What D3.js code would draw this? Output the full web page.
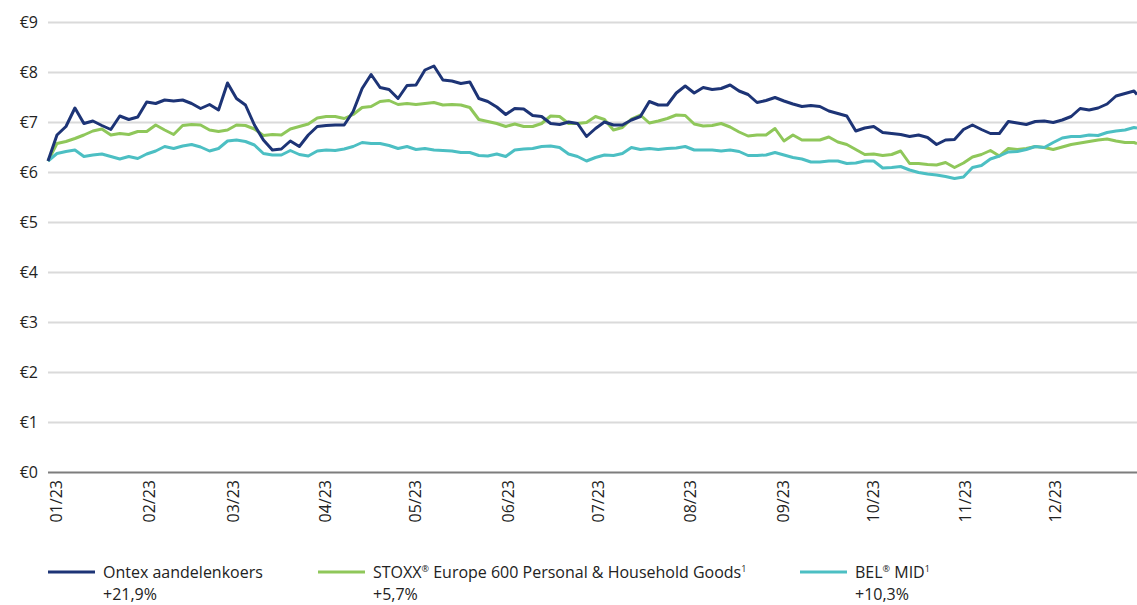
<!DOCTYPE html>
<html>
<head>
<meta charset="utf-8">
<script src="https://cdn.jsdelivr.net/npm/d3@7"></script>
<style>
  html, body { margin: 0; padding: 0; background: #fff; }
  svg { display: block; font-family: "Open Sans", "Noto Sans", sans-serif; }
</style>
</head>
<body>
<svg id="chart" width="1137" height="605"></svg>
<script>
// sample dates (every 3 days through 2023)
const dates = [
  "2023-01-01","2023-01-04","2023-01-07","2023-01-10","2023-01-13","2023-01-16","2023-01-19","2023-01-22","2023-01-25","2023-01-28",
  "2023-01-31","2023-02-03","2023-02-06","2023-02-09","2023-02-12","2023-02-15","2023-02-18","2023-02-21","2023-02-24","2023-02-27",
  "2023-03-02","2023-03-05","2023-03-08","2023-03-11","2023-03-14","2023-03-17","2023-03-20","2023-03-23","2023-03-26","2023-03-29",
  "2023-04-01","2023-04-04","2023-04-07","2023-04-10","2023-04-13","2023-04-16","2023-04-19","2023-04-22","2023-04-25","2023-04-28",
  "2023-05-01","2023-05-04","2023-05-07","2023-05-10","2023-05-13","2023-05-16","2023-05-19","2023-05-22","2023-05-25","2023-05-28",
  "2023-05-31","2023-06-03","2023-06-06","2023-06-09","2023-06-12","2023-06-15","2023-06-18","2023-06-21","2023-06-24","2023-06-27",
  "2023-06-30","2023-07-03","2023-07-06","2023-07-09","2023-07-12","2023-07-15","2023-07-18","2023-07-21","2023-07-24","2023-07-27",
  "2023-07-30","2023-08-02","2023-08-05","2023-08-08","2023-08-11","2023-08-14","2023-08-17","2023-08-20","2023-08-23","2023-08-26",
  "2023-08-29","2023-09-01","2023-09-04","2023-09-07","2023-09-10","2023-09-13","2023-09-16","2023-09-19","2023-09-22","2023-09-25",
  "2023-09-28","2023-10-01","2023-10-04","2023-10-07","2023-10-10","2023-10-13","2023-10-16","2023-10-19","2023-10-22","2023-10-25",
  "2023-10-28","2023-10-31","2023-11-03","2023-11-06","2023-11-09","2023-11-12","2023-11-15","2023-11-18","2023-11-21","2023-11-24",
  "2023-11-27","2023-11-30","2023-12-03","2023-12-06","2023-12-09","2023-12-12","2023-12-15","2023-12-18","2023-12-21","2023-12-24",
  "2023-12-27","2023-12-30","2023-12-31"
];

// Ontex share price (EUR)
const ontex = [
  6.22,6.74,6.91,7.28,6.97,7.02,6.93,6.85,7.12,7.05,
  7.10,7.40,7.37,7.44,7.42,7.44,7.37,7.27,7.35,7.24,
  7.78,7.47,7.34,6.94,6.64,6.44,6.46,6.62,6.51,6.74,
  6.91,6.93,6.94,6.94,7.21,7.67,7.95,7.69,7.65,7.47,
  7.73,7.74,8.04,8.12,7.84,7.82,7.77,7.80,7.47,7.41,
  7.30,7.15,7.27,7.26,7.13,7.11,6.97,6.95,7.00,6.97,
  6.71,6.87,7.00,6.94,6.94,7.04,7.11,7.41,7.34,7.34,
  7.58,7.72,7.58,7.69,7.65,7.67,7.74,7.62,7.55,7.39,
  7.43,7.49,7.42,7.36,7.31,7.33,7.31,7.22,7.17,7.12,
  6.82,6.88,6.91,6.79,6.77,6.75,6.71,6.74,6.69,6.55,
  6.64,6.65,6.85,6.94,6.85,6.77,6.77,7.01,6.98,6.95,
  7.01,7.02,6.99,7.04,7.11,7.27,7.24,7.28,7.36,7.52,
  7.57,7.62,7.55
];

// STOXX Europe 600 Personal & Household Goods (rebased)
const stoxx = [
  6.22,6.57,6.61,6.67,6.74,6.82,6.86,6.74,6.77,6.75,
  6.81,6.81,6.94,6.84,6.75,6.93,6.95,6.94,6.84,6.81,
  6.84,6.94,6.93,6.86,6.73,6.75,6.74,6.86,6.91,6.96,
  7.08,7.11,7.11,7.07,7.15,7.29,7.31,7.41,7.43,7.35,
  7.37,7.35,7.37,7.39,7.34,7.35,7.34,7.29,7.05,7.01,
  6.97,6.91,6.96,6.91,6.91,6.97,7.12,7.11,6.97,6.97,
  6.99,7.11,7.05,6.84,6.89,7.06,7.14,6.98,7.02,7.07,
  7.14,7.13,6.96,6.92,6.93,6.97,6.90,6.80,6.72,6.74,
  6.74,6.87,6.62,6.74,6.64,6.64,6.64,6.70,6.60,6.55,
  6.45,6.35,6.36,6.33,6.35,6.42,6.17,6.17,6.15,6.14,
  6.19,6.09,6.18,6.30,6.35,6.43,6.32,6.47,6.45,6.47,
  6.51,6.49,6.45,6.50,6.55,6.58,6.61,6.64,6.66,6.62,
  6.59,6.59,6.57
];

// BEL MID (rebased)
const belMid = [
  6.22,6.37,6.41,6.44,6.31,6.34,6.36,6.31,6.26,6.31,
  6.27,6.36,6.42,6.51,6.47,6.52,6.55,6.50,6.42,6.47,
  6.62,6.64,6.61,6.54,6.37,6.34,6.34,6.43,6.35,6.32,
  6.42,6.44,6.43,6.46,6.51,6.59,6.57,6.57,6.53,6.47,
  6.51,6.45,6.47,6.44,6.43,6.42,6.39,6.39,6.33,6.32,
  6.36,6.31,6.44,6.46,6.47,6.51,6.52,6.49,6.36,6.31,
  6.22,6.29,6.34,6.33,6.37,6.49,6.45,6.47,6.45,6.47,
  6.48,6.51,6.44,6.44,6.44,6.42,6.44,6.41,6.33,6.33,
  6.34,6.39,6.34,6.29,6.26,6.20,6.20,6.22,6.22,6.17,
  6.18,6.22,6.22,6.08,6.09,6.11,6.04,5.99,5.96,5.94,
  5.91,5.87,5.90,6.09,6.13,6.26,6.32,6.40,6.41,6.45,
  6.51,6.49,6.59,6.68,6.71,6.71,6.74,6.73,6.79,6.82,
  6.84,6.89,6.88
];

const yTicks = [0, 1, 2, 3, 4, 5, 6, 7, 8, 9];

const legendNames = [
  ["Ontex aandelenkoers"],
  ["STOXX", "®", " Europe 600 Personal & Household Goods", "1"],
  ["BEL", "®", " MID", "1"]
];
const legendChanges = ["+21,9%", "+5,7%", "+10,3%"];
const colors = ["#1d3476", "#8fc75a", "#4cbfc3"];

const plotLeft = 48, plotRight = 1137, plotTop = 22, plotBottom = 472;

const svg = d3.select("#chart");
const parse = d3.timeParse("%Y-%m-%d");
const xDates = dates.map(parse);

const x = d3.scaleTime()
  .domain([parse("2023-01-01"), parse("2023-12-31")])
  .range([plotLeft, plotRight]);
const y = d3.scaleLinear().domain([0, 9]).range([plotBottom, plotTop]);

// gridlines + y labels
const yAxis = svg.append("g")
  .attr("transform", `translate(${plotLeft},0)`)
  .call(d3.axisLeft(y).tickValues(yTicks).tickSize(-(plotRight - plotLeft)).tickPadding(10)
    .tickFormat(d => "€" + d));
yAxis.select(".domain").remove();
yAxis.selectAll(".tick line")
  .attr("stroke", d => d === 0 ? "#7d7d7d" : "#dadada")
  .attr("stroke-width", 2);
yAxis.selectAll(".tick text")
  .attr("font-size", 16)
  .attr("fill", "#222")
  .attr("font-family", "'Open Sans', sans-serif");

// month labels, rotated
const months = d3.timeMonth.range(parse("2023-01-01"), parse("2024-01-01"));
svg.append("g").selectAll("text")
  .data(months)
  .join("text")
  .attr("transform", d => `translate(${x(d) + 14},${plotBottom + 8}) rotate(-90)`)
  .attr("text-anchor", "end")
  .attr("font-size", 16)
  .attr("fill", "#222")
  .text(d3.timeFormat("%m/%y"));

// lines
const series = [ontex, stoxx, belMid];
const line = d3.line()
  .x((d, i) => x(xDates[i]))
  .y(d => y(d));

const drawOrder = [1, 2, 0];
svg.append("g").selectAll("path")
  .data(drawOrder)
  .join("path")
  .attr("d", k => line(series[k]))
  .attr("fill", "none")
  .attr("stroke", k => colors[k])
  .attr("stroke-width", 3)
  .attr("stroke-linejoin", "round");

// legend
const legendX = [48, 318, 800];
const lg = svg.append("g").selectAll("g")
  .data(legendNames)
  .join("g")
  .attr("transform", (d, i) => `translate(${legendX[i]},0)`);

lg.append("line")
  .attr("x1", 0).attr("x2", 47)
  .attr("y1", 572).attr("y2", 572)
  .attr("stroke", (d, i) => colors[i])
  .attr("stroke-width", 3);

const nameText = lg.append("text")
  .attr("x", 55).attr("y", 578)
  .attr("font-size", 16)
  .attr("fill", "#222");
nameText.each(function(parts) {
  const t = d3.select(this);
  parts.forEach((p, j) => {
    const sup = j % 2 === 1;
    t.append("tspan")
      .attr("font-size", sup ? 9 : 16)
      .attr("baseline-shift", sup ? "70%" : null)
      .text(p);
  });
});

lg.append("text")
  .attr("x", 55).attr("y", 600)
  .attr("font-size", 16)
  .attr("fill", "#222")
  .text((d, i) => legendChanges[i]);
</script>
</body>
</html>
